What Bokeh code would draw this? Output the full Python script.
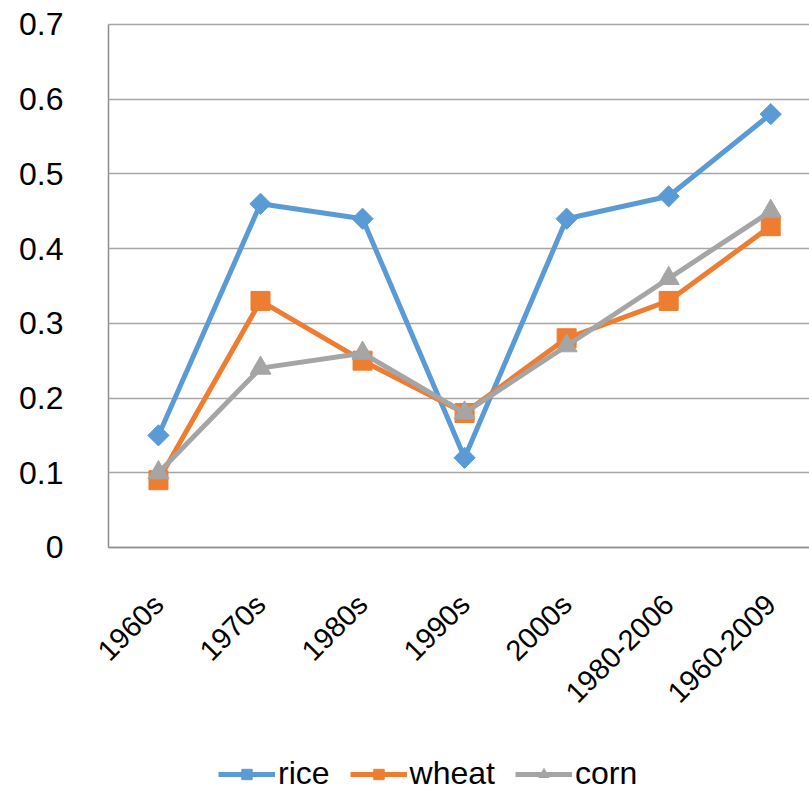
import math
from bokeh.plotting import figure
from bokeh.models import Legend, LegendItem, FixedTicker, Range1d
from bokeh.embed import file_html
from bokeh.resources import INLINE

categories = ["1960s", "1970s", "1980s", "1990s", "2000s", "1980-2006", "1960-2009"]
rice = [0.15, 0.46, 0.44, 0.12, 0.44, 0.47, 0.58]
wheat = [0.09, 0.33, 0.25, 0.18, 0.28, 0.33, 0.43]
corn = [0.10, 0.24, 0.26, 0.18, 0.27, 0.36, 0.45]
y_ticks = [0, 0.1, 0.2, 0.3, 0.4, 0.5, 0.6, 0.7]
y_tick_labels = ["0", "0.1", "0.2", "0.3", "0.4", "0.5", "0.6", "0.7"]

FONT = "Liberation Sans"
xs = list(range(len(categories)))
X_START, X_END = -0.49, 6.38   # visible category span of the plot area

# The frame covers the whole canvas; both axes are pinned at data locations,
# so the rotated labels, the top tick label and the legend are never clipped.
p = figure(width=809, height=792, output_backend="svg", toolbar_location=None,
           x_range=Range1d(-1.548, X_END), y_range=Range1d(-0.328, 0.7321),
           min_border_left=0, min_border_right=0, min_border_top=0,
           min_border_bottom=0)
p.outline_line_color = None
p.background_fill_color = "white"
p.border_fill_color = "white"
p.xgrid.grid_line_color = None
p.ygrid.grid_line_color = None

# y axis: pinned at the left edge of the category span; its inward ticks act
# as the horizontal gridlines, drawn beneath the data
p.yaxis.fixed_location = X_START
p.yaxis.level = "underlay"
p.yaxis.ticker = FixedTicker(ticks=y_ticks)
p.yaxis.bounds = (y_ticks[0], y_ticks[-1])
p.yaxis.major_label_overrides = {t: l for t, l in zip(y_ticks, y_tick_labels)}
p.yaxis.major_tick_line_color = "#a6a6a6"
p.yaxis.major_tick_line_width = 1.5
p.yaxis.minor_tick_line_color = None
p.yaxis.major_tick_out = 0
p.yaxis.major_tick_in = 701
p.yaxis.axis_line_color = "#8c8c8c"
p.yaxis.axis_line_width = 1.5
p.yaxis.major_label_standoff = 45
p.yaxis.major_label_text_font = FONT
p.yaxis.major_label_text_font_size = "32px"
p.yaxis.major_label_text_color = "black"

# x axis pinned at y = 0
p.xaxis.fixed_location = 0
p.xaxis.bounds = (X_START, X_END)
p.xaxis.ticker = FixedTicker(ticks=xs)
p.xaxis.major_label_overrides = {i: c for i, c in zip(xs, categories)}
p.xaxis.major_tick_line_color = None
p.xaxis.minor_tick_line_color = None
p.xaxis.major_tick_out = 0
p.xaxis.major_tick_in = 0
p.xaxis.axis_line_color = "#8c8c8c"
p.xaxis.axis_line_width = 1.5
p.xaxis.major_label_orientation = math.pi / 4
p.xaxis.major_label_standoff = 52
p.xaxis.major_label_text_font = FONT
p.xaxis.major_label_text_font_size = "29px"
p.xaxis.major_label_text_color = "black"

LW = 5
r_rice_l = p.line(xs, rice, line_color="#5b9bd5", line_width=LW, line_join="round")
r_rice_m = p.scatter(xs, rice, marker="square", angle=math.pi / 4, size=15,
                     fill_color="#5b9bd5", line_color="#5b9bd5")
r_wheat_l = p.line(xs, wheat, line_color="#ed7d31", line_width=LW, line_join="round")
r_wheat_m = p.scatter(xs, wheat, marker="square", size=19, fill_color="#ed7d31",
                      line_color="#ed7d31")
r_corn_l = p.line(xs, corn, line_color="#a5a5a5", line_width=LW, line_join="round")
r_corn_m = p.scatter(xs, corn, marker="triangle", size=21, fill_color="#a5a5a5",
                     line_color="#a5a5a5")

legend = Legend(items=[
    LegendItem(label="rice", renderers=[r_rice_l, r_rice_m]),
    LegendItem(label="wheat", renderers=[r_wheat_l, r_wheat_m]),
    LegendItem(label="corn", renderers=[r_corn_l, r_corn_m]),
], orientation="horizontal", location=(218, 0))
legend.label_text_font = FONT
legend.label_text_font_size = "32px"
legend.label_text_color = "black"
legend.glyph_width = 57
legend.glyph_height = 26
legend.label_standoff = 3
legend.spacing = 20
legend.border_line_color = None
legend.background_fill_alpha = 0
legend.margin = 0
legend.padding = 0
p.add_layout(legend, "center")

open("out.html", "w").write(file_html(p, INLINE))
